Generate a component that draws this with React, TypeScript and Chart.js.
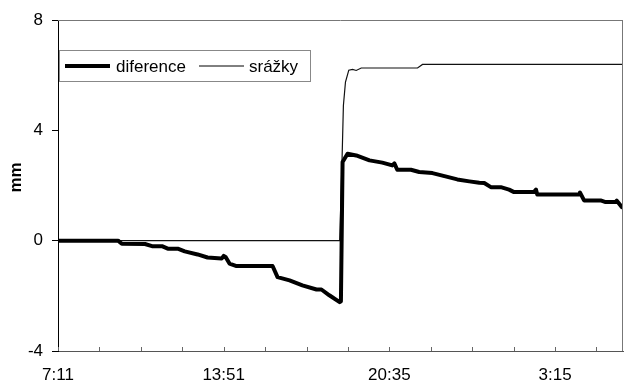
import React, { useEffect, useRef } from "react";
import { Chart, registerables } from "chart.js";

Chart.register(...registerables);

// minutes elapsed since 7:11
const difMinutes = [0, 145, 154, 210, 227, 251, 265, 289, 306, 337, 361, 395, 400, 405, 414, 431, 518, 530, 559, 590, 624, 636, 655, 680, 683, 687, 699, 720, 752, 783, 807, 812, 819, 852, 872, 904, 933, 964, 993, 1017, 1029, 1045, 1069, 1089, 1101, 1149, 1154, 1157, 1258, 1260, 1270, 1310, 1322, 1346, 1349, 1361];
const diference = [0, 0, -0.11, -0.12, -0.2, -0.2, -0.29, -0.29, -0.39, -0.5, -0.61, -0.65, -0.55, -0.6, -0.83, -0.92, -0.92, -1.32, -1.44, -1.62, -1.77, -1.77, -1.98, -2.23, -2.2, 2.85, 3.15, 3.09, 2.91, 2.83, 2.73, 2.8, 2.57, 2.57, 2.49, 2.45, 2.34, 2.22, 2.15, 2.1, 2.09, 1.94, 1.94, 1.85, 1.76, 1.76, 1.85, 1.67, 1.67, 1.75, 1.46, 1.46, 1.4, 1.4, 1.45, 1.22];

const srazkyMinutes = [0, 680, 684, 686, 689, 694, 702, 711, 720, 732, 868, 880, 1364];
const srazky = [0, 0, 2.0, 3.09, 4.9, 5.75, 6.18, 6.21, 6.17, 6.26, 6.26, 6.39, 6.39];

const xTickValues = [0, 400, 800, 1200];
const xTickLabels = ["7:11", "13:51", "20:35", "3:15"];
const xMax = 1364;
const yTicks = [-4, 0, 4, 8];
const yTitle = "mm";

const seriesNames = ["diference", "srážky"];

const FONT = "'Liberation Sans', Arial, sans-serif";

const framePlugin = {
  id: "frameAndLegend",
  afterDraw(chart: any) {
    const { ctx, chartArea } = chart;
    const { left, top, right, bottom } = chartArea;
    const xs = chart.scales.x;
    ctx.save();
    // top and right border
    ctx.strokeStyle = "#777";
    ctx.lineWidth = 1;
    ctx.beginPath();
    ctx.moveTo(left, top + 0.5);
    ctx.lineTo(right, top + 0.5);
    ctx.moveTo(right - 0.5, top);
    ctx.lineTo(right - 0.5, bottom);
    ctx.stroke();
    // inside tick marks on x axis
    ctx.strokeStyle = "#666";
    ctx.beginPath();
    xs.ticks.forEach((t: any) => {
      if (t.value % 100 !== 0) return;
      const px = Math.round(xs.getPixelForValue(t.value)) + 0.5;
      ctx.moveTo(px, bottom);
      ctx.lineTo(px, bottom - 4);
    });
    ctx.stroke();

    // y axis title
    ctx.save();
    ctx.translate(left - 42, (top + bottom) / 2 - 8);
    ctx.rotate(-Math.PI / 2);
    ctx.font = `bold 17px ${FONT}`;
    ctx.fillStyle = "#000";
    ctx.textAlign = "center";
    ctx.textBaseline = "middle";
    ctx.fillText(yTitle, 0, 0);
    ctx.restore();

    // legend box
    const lx = left + 1.5;
    const ly = top + 30.5;
    ctx.strokeStyle = "#888";
    ctx.lineWidth = 1;
    ctx.strokeRect(lx, ly, 251, 31);
    const cy = top + 46;
    const items = [
      { x0: left + 7, x1: left + 52, tx: left + 58, w: 4, name: seriesNames[0] },
      { x0: left + 141, x1: left + 186, tx: left + 191, w: 1, name: seriesNames[1] },
    ];
    ctx.font = `17px ${FONT}`;
    ctx.textBaseline = "middle";
    ctx.textAlign = "left";
    items.forEach((it) => {
      ctx.strokeStyle = "#000";
      ctx.lineWidth = it.w;
      ctx.beginPath();
      ctx.moveTo(it.x0, cy);
      ctx.lineTo(it.x1, cy);
      ctx.stroke();
      ctx.fillStyle = "#000";
      ctx.fillText(it.name, it.tx, cy + 1);
    });
    ctx.restore();
  },
};

export default function App() {
  const ref = useRef<HTMLCanvasElement | null>(null);

  useEffect(() => {
    document.body.style.margin = "0";
    const canvas = ref.current;
    if (!canvas) return;
    const chart = new Chart(canvas, {
      type: "line",
      data: {
        datasets: [
          {
            label: seriesNames[0],
            data: difMinutes.map((m, i) => ({ x: m, y: diference[i] })),
            borderColor: "#000",
            borderWidth: 4,
            pointRadius: 0,
            tension: 0,
            borderJoinStyle: "round",
            borderCapStyle: "round",
          },
          {
            label: seriesNames[1],
            data: srazkyMinutes.map((m, i) => ({ x: m, y: srazky[i] })),
            borderColor: "#111",
            borderWidth: 1.2,
            pointRadius: 0,
            tension: 0,
          },
        ],
      },
      options: {
        animation: false,
        responsive: false,
        devicePixelRatio: 1,
        layout: { padding: { top: 20, right: 2, left: 0, bottom: 0 } },
        plugins: {
          legend: { display: false },
          tooltip: { enabled: false },
        },
        scales: {
          x: {
            type: "linear",
            min: 0,
            max: xMax,
            grid: { display: true, drawOnChartArea: false, drawTicks: false },
            border: { display: true, color: "#555", width: 1 },
            ticks: {
              stepSize: 100,
              autoSkip: false,
              includeBounds: false,
              maxRotation: 0,
              padding: 14,
              color: "#000",
              font: { family: FONT, size: 17 },
              callback: (v: any) => {
                const i = xTickValues.indexOf(Number(v));
                return i >= 0 ? xTickLabels[i] : "";
              },
            },
            afterFit: (s: any) => {
              s.height = 34;
            },
          },
          y: {
            min: -4,
            max: 8,
            grid: { display: true, drawOnChartArea: false, drawTicks: true, tickLength: 6, color: "#000" },
            border: { display: true, color: "#000", width: 1 },
            afterBuildTicks: (s: any) => {
              s.ticks = yTicks.map((v) => ({ value: v }));
            },
            ticks: {
              padding: 9,
              color: "#000",
              font: { family: FONT, size: 17 },
            },
            afterFit: (s: any) => {
              s.width = 58;
            },
          },
        },
      },
      plugins: [framePlugin],
    });
    return () => chart.destroy();
  }, []);

  return (
    <div style={{ width: 625, height: 385, background: "#fff" }}>
      <canvas ref={ref} width={625} height={385} />
    </div>
  );
}
